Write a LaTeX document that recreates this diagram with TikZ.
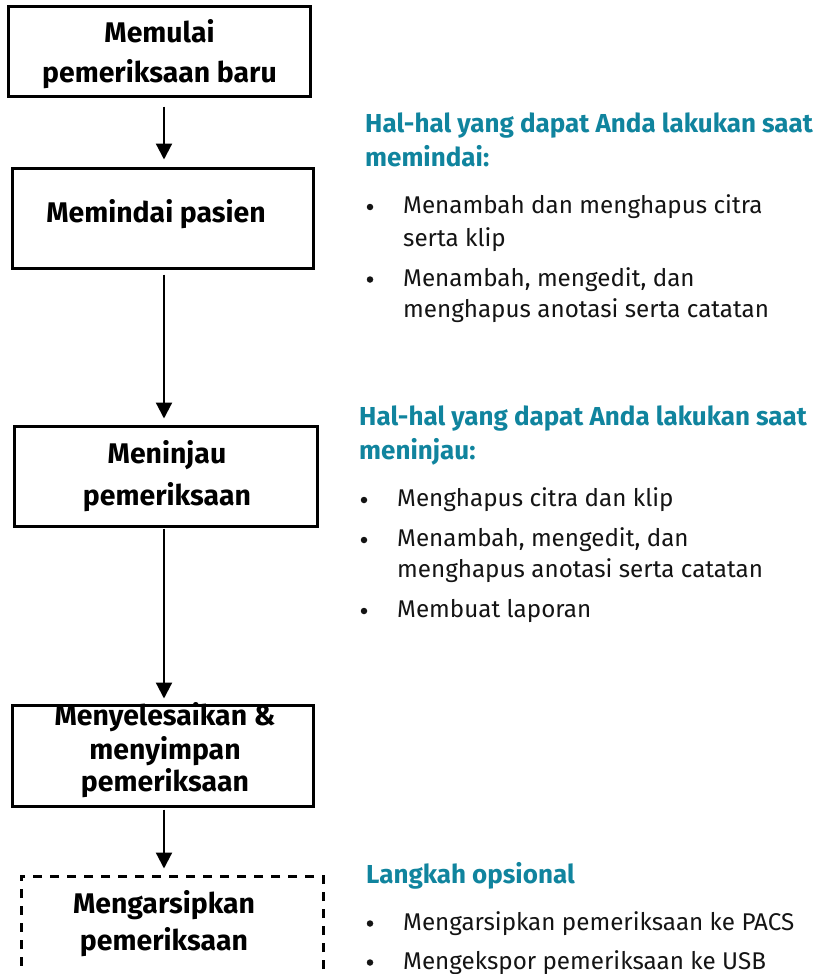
\documentclass[tikz,border=0pt]{standalone}
\usepackage{fontspec}
\setmainfont{Fira Sans}
\usetikzlibrary{arrows.meta}
\definecolor{teal1}{RGB}{16,132,158}
\definecolor{ink}{RGB}{20,20,20}
\tikzset{
  stepbox/.style={draw=black, line width=3pt, inner sep=0pt, fill=none},
  optbox/.style={stepbox, dash pattern=on 9pt off 8pt},
  lbl/.style={font=\bfseries\fontsize{28.4}{30}\selectfont, text=black, inner sep=0pt, anchor=base},
  hd/.style={font=\bfseries\fontsize{26}{28}\selectfont, text=teal1, inner sep=0pt, anchor=base west},
  body/.style={font=\fontsize{24.2}{26}\selectfont, text=ink, inner sep=0pt, anchor=base west},
  bul/.style={circle, fill=ink, inner sep=0pt, minimum size=6.5pt},
  arr/.style={line width=2.2pt, -{Triangle[width=16pt,length=16pt]}}
}
\begin{document}
\begin{tikzpicture}[x=1pt,y=-1pt]
\useasboundingbox (0,0) rectangle (817,974);
% boxes
\node[stepbox, minimum width=302pt, minimum height=89pt] (b1) at (159,51.5) {};
\node[stepbox, minimum width=301pt, minimum height=100pt] (b2) at (162.5,218) {};
\node[stepbox, minimum width=303pt, minimum height=100pt] (b3) at (165.5,476) {};
\node[stepbox, minimum width=301pt, minimum height=101pt] (b4) at (162.5,755.5) {};
\node[optbox, minimum width=302pt, minimum height=114pt] (b5) at (172,933) {};
% box labels
\node[lbl] (t1a) at (159.5,42.3) {Memulai};
\node[lbl] (t1b) at (159.5,82) {pemeriksaan baru};
\node[lbl] (t2a) at (156,222) {Memindai pasien};
\node[lbl] (t3a) at (167,463) {Meninjau};
\node[lbl] (t3b) at (167,505) {pemeriksaan};
\node[lbl] (t4a) at (165,725.5) {Menyelesaikan \&};
\node[lbl] (t4b) at (165,759) {menyimpan};
\node[lbl] (t4c) at (165,791.5) {pemeriksaan};
\node[lbl] (t5a) at (164,913) {Mengarsipkan};
\node[lbl] (t5b) at (164,950.5) {pemeriksaan};
% arrows
\coordinate (ax) at (164,0);
\draw[arr, shorten <=9pt, shorten >=7pt] (b1.south -| ax) -- (b2.north -| ax);
\draw[arr, shorten <=5pt, shorten >=6pt] (b2.south -| ax) -- (b3.north -| ax);
\draw[arr, shorten <=1pt, shorten >=5pt] (b3.south -| ax) -- (b4.north -| ax);
\draw[arr, shorten <=2pt, shorten >=6pt] (b4.south -| ax) -- (b5.north -| ax);
% section 1
\node[hd] (h1a) at (365,132) {Hal-hal yang dapat Anda lakukan saat};
\node[hd] (h1b) at (365,166) {memindai:};
\node[bul] (p1a) at (370,207) {};
\node[body] (s1a) at (403,213.3) {Menambah dan menghapus citra};
\node[body] (s1b) at (403,246.7) {serta klip};
\node[bul] (p1b) at (370,279.5) {};
\node[body] (s1c) at (403,286) {Menambah, mengedit, dan};
\node[body] (s1d) at (403,317.5) {menghapus anotasi serta catatan};
% section 2
\node[hd] (h2a) at (359,425) {Hal-hal yang dapat Anda lakukan saat};
\node[hd] (h2b) at (359,459.5) {meninjau:};
\node[bul] (p2a) at (364,500) {};
\node[body] (s2a) at (397,506) {Menghapus citra dan klip};
\node[bul] (p2b) at (364,540) {};
\node[body] (s2b) at (397,546) {Menambah, mengedit, dan};
\node[body] (s2c) at (397,577.5) {menghapus anotasi serta catatan};
\node[bul] (p2c) at (364,611) {};
\node[body] (s2d) at (397,617.5) {Membuat laporan};
% section 3
\node[hd] (h3a) at (366,883) {Langkah opsional};
\node[bul] (p3a) at (370,923.5) {};
\node[body] (s3a) at (403,930) {Mengarsipkan pemeriksaan ke PACS};
\node[bul] (p3b) at (370,962.5) {};
\node[body] (s3b) at (403,969) {Mengekspor pemeriksaan ke USB};
\end{tikzpicture}
\end{document}
